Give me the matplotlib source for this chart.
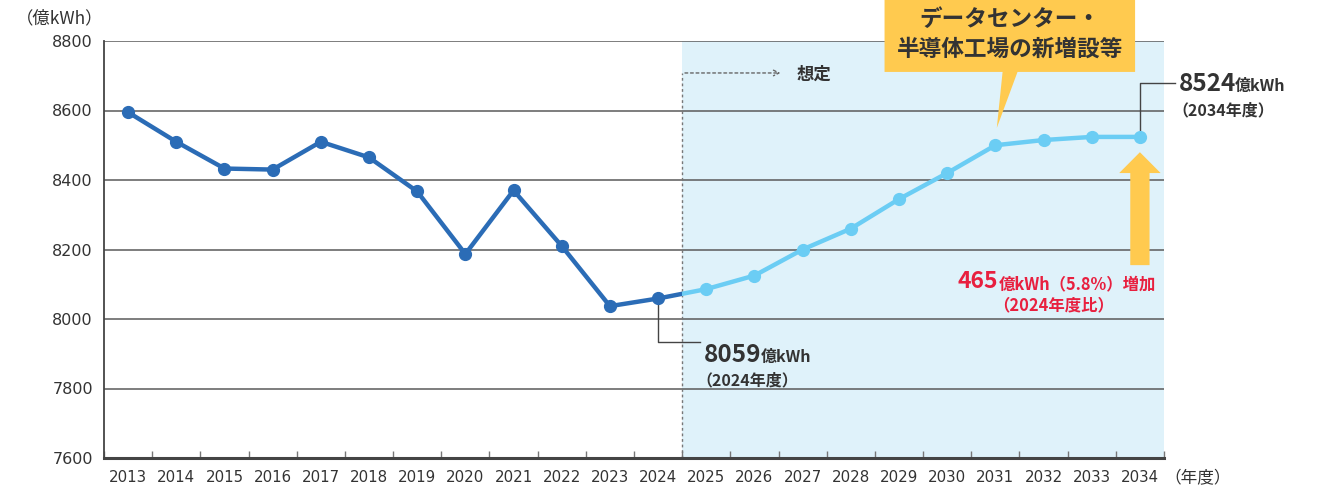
import numpy as np
import matplotlib.pyplot as plt
from matplotlib.patches import Polygon

plt.rcParams['font.family'] = ['Noto Sans CJK JP', 'DejaVu Sans']

# ====== データ ======
years_actual = [2013, 2014, 2015, 2016, 2017, 2018, 2019, 2020, 2021, 2022, 2023, 2024]
demand_actual = [8595, 8510, 8433, 8430, 8510, 8465, 8367, 8187, 8370, 8210, 8037, 8059]

years_forecast = [2025, 2026, 2027, 2028, 2029, 2030, 2031, 2032, 2033, 2034]
demand_forecast = [8086, 8125, 8200, 8260, 8345, 8420, 8500, 8515, 8524, 8524]

y_ticks = [7600, 7800, 8000, 8200, 8400, 8600, 8800]
x_labels = [str(y) for y in years_actual + years_forecast]

DARK = "#2B6CB6"
LIGHT = "#6BCDF4"
SHADE = "#DFF2FA"
YELLOW = "#FFCA4F"
RED = "#E8203F"
TXT = "#333333"

W, H = 1344, 488
fig = plt.figure(figsize=(W / 100, H / 100), dpi=100)
ax = fig.add_axes([104 / W, 1 - 458 / H, (1164 - 104) / W, (458 - 41) / H])


def px(x, y):
    # ピクセル位置 -> figure 座標
    return x / W, 1 - y / H


x0, x1 = years_actual[0] - 0.5, years_forecast[-1] + 0.5
split = years_actual[-1] + 0.5
ax.set_xlim(x0, x1)
ax.set_ylim(y_ticks[0], y_ticks[-1])

# 想定エリア
ax.axvspan(split, x1, color=SHADE, zorder=0, lw=0)

# grid
for v in y_ticks[1:]:
    ax.axhline(v, color="#5a5a5a", lw=1.1, zorder=1)

# ====== 折れ線 ======
all_years = years_actual + years_forecast
ax.plot(years_actual, demand_actual, color=DARK, lw=3.2, marker="o", ms=8.5, zorder=4)
# 2024→2025 の区間を境界で色分け
seg_x = [years_actual[-1], years_forecast[0]]
seg_y = [demand_actual[-1], demand_forecast[0]]
l1, = ax.plot(seg_x, seg_y, color=DARK, lw=3.2, zorder=3, solid_capstyle="butt")
l2, = ax.plot(seg_x, seg_y, color=LIGHT, lw=3.2, zorder=3, solid_capstyle="butt")
r1 = plt.Rectangle((x0, y_ticks[0]), split - x0, 2000, transform=ax.transData)
r2 = plt.Rectangle((split, y_ticks[0]), x1 - split, 2000, transform=ax.transData)
l1.set_clip_path(r1)
l2.set_clip_path(r2)
ax.plot(years_forecast, demand_forecast, color=LIGHT, lw=3.2, marker="o", ms=8.5, zorder=4)

# ====== 軸 ======
for s in ["top", "right"]:
    ax.spines[s].set_visible(False)
ax.spines["left"].set_color("#444444")
ax.spines["left"].set_linewidth(1.3)
ax.spines["bottom"].set_color("#444444")
ax.spines["bottom"].set_linewidth(2.2)

ax.set_yticks(y_ticks)
ax.set_yticklabels([str(v) for v in y_ticks], fontsize=11.5, color=TXT,
                   family=["DejaVu Sans"])
ax.tick_params(axis="y", length=0, pad=8)

ax.set_xticks(all_years)
ax.set_xticklabels(x_labels, fontsize=10.8, color=TXT,
                   family=["Liberation Sans Narrow", "DejaVu Sans"])
ax.tick_params(axis="x", length=0, pad=9)
ax.set_xticks(np.arange(x0, x1 + 0.01, 1.0), minor=True)
ax.tick_params(axis="x", which="minor", direction="in", length=5, width=1, color="#777777")

fig.text(*px(16, 18), "（億kWh）", fontsize=12.5, color=TXT, va="center", ha="left")
fig.text(*px(1164, 479), "（年度）", fontsize=12, color=TXT, va="center", ha="left")

# ====== 想定 の点線矢印 ======
ax.plot([split, split], [y_ticks[0], 8708], color="#777777", lw=1, ls=(0, (2, 2)), zorder=2,
        clip_on=False)
ax.annotate("", xy=(2026.6, 8708), xytext=(split, 8708),
            arrowprops=dict(arrowstyle="->", color="#666666", lw=1, ls=(0, (2, 2))),
            zorder=2)
fig.text(*px(797, 75), "想定", fontsize=12.5, fontweight="bold", color=TXT, va="center")

# ====== 2024 年度のラベル ======
ax.plot([2024, 2024, 2024.87], [demand_actual[-1], 7934, 7934], color="#444444", lw=1, zorder=3)
fig.text(*px(704, 355), "8059", fontsize=17.5, fontweight="bold", color=TXT, va="center")
fig.text(*px(761, 357), "億kWh", fontsize=11.5, fontweight="bold", color=TXT, va="center")
fig.text(*px(696, 380), "（2024年度）", fontsize=11.5, fontweight="bold", color=TXT, va="center")

# ====== 2034 年度のラベル ======
ax.plot([2034, 2034, 2034.72], [demand_forecast[-1], 8679, 8679], color="#444444", lw=1,
        zorder=3, clip_on=False)
fig.text(*px(1179, 84), "8524", fontsize=17.5, fontweight="bold", color=TXT, va="center")
fig.text(*px(1235, 86), "億kWh", fontsize=11.5, fontweight="bold", color=TXT, va="center")
fig.text(*px(1172, 110), "（2034年度）", fontsize=11.5, fontweight="bold", color=TXT, va="center")

# ====== 黄色い吹き出し ======
bubble = Polygon([(2028.7, 8918), (2033.9, 8918), (2033.9, 8711), (2031.46, 8711),
                  (2031.03, 8550), (2031.15, 8711), (2028.7, 8711)],
                 closed=True, facecolor=YELLOW, edgecolor="none", zorder=5, clip_on=False)
ax.add_patch(bubble)
fig.text(*px(1010, 20), "データセンター・", fontsize=16.3, fontweight="bold", color=TXT,
         ha="center", va="center")
fig.text(*px(1010, 49), "半導体工場の新増設等", fontsize=16.3, fontweight="bold", color=TXT,
         ha="center", va="center")

# ====== 黄色い矢印 ======
cx = years_forecast[-1]
arrow = Polygon([(cx - 0.2, 8155), (cx + 0.2, 8155), (cx + 0.2, 8420), (cx + 0.43, 8420),
                 (cx, 8480), (cx - 0.43, 8420), (cx - 0.2, 8420)],
                closed=True, facecolor=YELLOW, edgecolor="none", zorder=5)
ax.add_patch(arrow)

fig.text(*px(998, 282), "465", fontsize=16.5, fontweight="bold", color=RED, ha="right", va="center")
fig.text(*px(999, 284), "億kWh（5.8%）増加", fontsize=11.8, fontweight="bold", color=RED,
         ha="left", va="center")
fig.text(*px(1054, 305), "（2024年度比）", fontsize=11.8, fontweight="bold", color=RED,
         ha="center", va="center")

fig.savefig("out.png", dpi=100)
